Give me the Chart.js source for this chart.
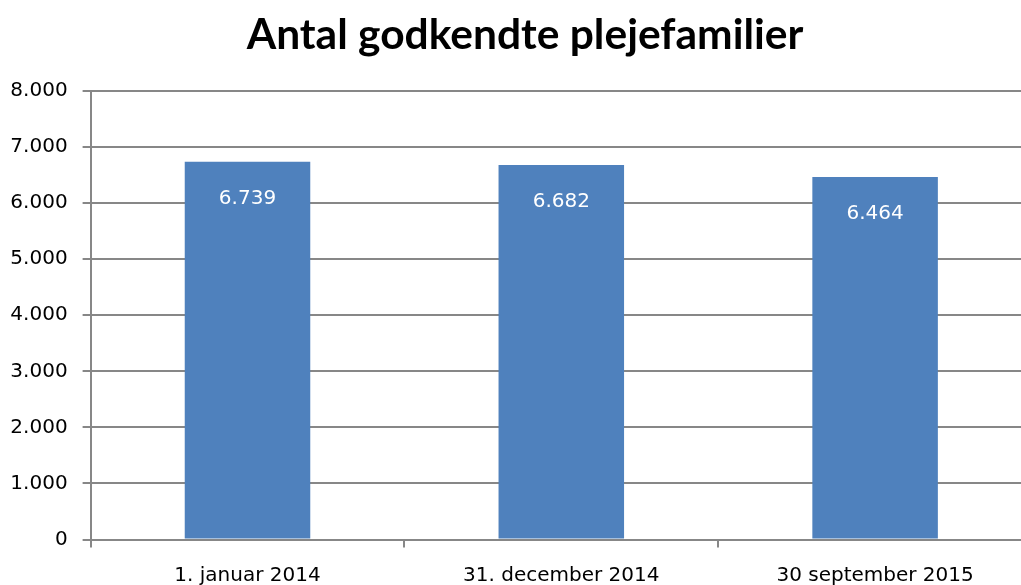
<!DOCTYPE html>
<html lang="da">
<head>
<meta charset="utf-8">
<title>Antal godkendte plejefamilier</title>
<script src="https://cdn.jsdelivr.net/npm/chart.js@4/dist/chart.umd.min.js"></script>
<style>
  html, body { margin: 0; padding: 0; background: #fff; overflow: hidden; }
  #wrap { width: 1032px; height: 585px; }
</style>
</head>
<body>
<div id="wrap"><canvas id="chart" width="1032" height="585"></canvas></div>
<script>
// Data
const categories = ['1. januar 2014', '31. december 2014', '30 september 2015'];
const families = [6739, 6682, 6464];
const yTicks = [0, 1000, 2000, 3000, 4000, 5000, 6000, 7000, 8000];

const chartTitle = 'Antal godkendte plejefamilier';
const barColor = '#4F81BD';
const lineColor = '#878787';

// Danish thousands separator: 6739 -> "6.739"
const fmt = v => String(v).replace(/\B(?=(\d{3})+(?!\d))/g, '.');

// Heading above the plot, centred on the visible page width
const heading = {
  id: 'heading',
  afterDraw(chart) {
    const ctx = chart.ctx;
    ctx.save();
    ctx.fillStyle = '#000';
    ctx.font = 'bold 42.5px Lato';
    ctx.textAlign = 'center';
    ctx.textBaseline = 'middle';
    ctx.fillText(chartTitle, 525, 35.5);
    ctx.restore();
  }
};

// White value labels inside the top of each bar
const valueLabels = {
  id: 'valueLabels',
  afterDatasetsDraw(chart) {
    const ctx = chart.ctx;
    const meta = chart.getDatasetMeta(0);
    ctx.save();
    ctx.fillStyle = '#ffffff';
    ctx.font = '20px "DejaVu Sans"';
    ctx.textAlign = 'center';
    ctx.textBaseline = 'middle';
    meta.data.forEach((bar, i) => {
      ctx.fillText(fmt(chart.data.datasets[0].data[i]), bar.x, bar.y + 37);
    });
    ctx.restore();
  }
};

new Chart(document.getElementById('chart'), {
  type: 'bar',
  data: {
    labels: categories,
    datasets: [{
      data: families,
      backgroundColor: barColor,
      borderWidth: 0,
      barPercentage: 0.4,
      categoryPercentage: 1.0
    }]
  },
  options: {
    responsive: false,
    animation: false,
    devicePixelRatio: 1,
    layout: { padding: { left: 0, right: 0, top: 91, bottom: 0 } },
    plugins: {
      legend: { display: false },
      tooltip: { enabled: false },
      title: { display: false }
    },
    scales: {
      x: {
        grid: {
          display: true,
          offset: true,
          drawOnChartArea: false,
          drawTicks: true,
          tickLength: 8,
          color: lineColor,
          lineWidth: 2
        },
        border: { display: true, color: lineColor, width: 2 },
        ticks: {
          color: '#000',
          font: { family: 'DejaVu Sans', size: 20 },
          padding: 16,
          maxRotation: 0,
          autoSkip: false
        },
        afterFit(scale) { scale.height = 45.5; }
      },
      y: {
        min: 0,
        max: 8000,
        afterBuildTicks(scale) { scale.ticks = yTicks.map(v => ({ value: v })); },
        grid: {
          color: lineColor,
          lineWidth: 2,
          drawTicks: true,
          tickLength: 8
        },
        border: { display: true, color: lineColor, width: 2 },
        ticks: {
          color: '#000',
          font: { family: 'DejaVu Sans', size: 20 },
          padding: 15,
          callback: v => fmt(v)
        },
        afterFit(scale) { scale.width = 90.6; }
      }
    }
  },
  plugins: [valueLabels, heading]
});
</script>
</body>
</html>
